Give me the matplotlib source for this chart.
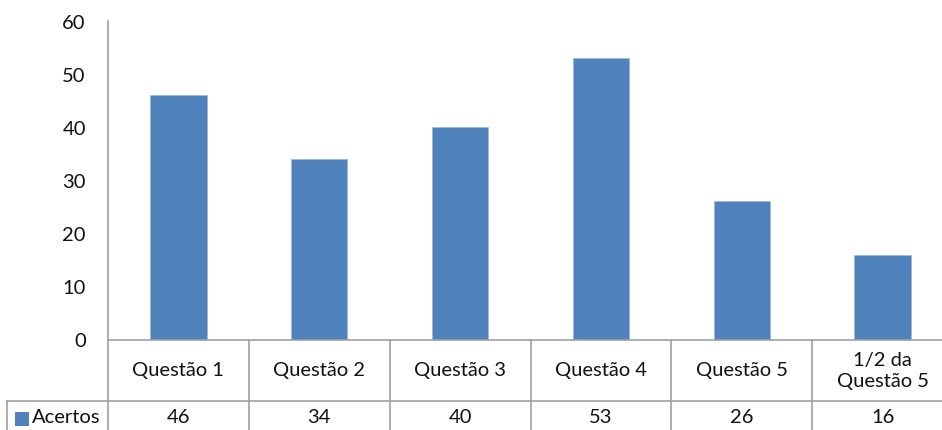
import matplotlib.pyplot as plt
from matplotlib.transforms import blended_transform_factory
from matplotlib.patches import Rectangle

categories = ["Questão 1", "Questão 2", "Questão 3", "Questão 4", "Questão 5", "1/2 da\nQuestão 5"]
acertos = [46, 34, 40, 53, 26, 16]
series_name = "Acertos"
yticks = [0, 10, 20, 30, 40, 50, 60]

W, H = 942, 431
bar_color = "#4F81BD"
line_color = "#A0A0A0"
text_color = "#111111"
font = ["Lato", "DejaVu Sans"]
fs = 14.5

fig = plt.figure(figsize=(W / 100, H / 100), dpi=100)
x_left, x_right = 108, 953
y_top, y_zero = 22, 340.5
ax = fig.add_axes([x_left / W, (H - y_zero) / H, (x_right - x_left) / W, (y_zero - y_top) / H])

xs = list(range(len(categories)))
ax.bar(xs, acertos, width=0.40, color=bar_color, edgecolor="#9DB6DA", linewidth=0.6, zorder=2)
ax.set_xlim(-0.5, len(categories) - 0.5)
ax.set_ylim(0, 60)
ax.set_yticks(yticks)
ax.set_yticklabels([str(t) for t in yticks], fontsize=fs, family=font, color=text_color)
ax.tick_params(axis="y", length=0, pad=16)
ax.set_xticks([])
for s in ["top", "right"]:
    ax.spines[s].set_visible(False)
ax.spines["left"].set_color(line_color)
ax.spines["left"].set_linewidth(1.2)
ax.spines["bottom"].set_color(line_color)
ax.spines["bottom"].set_linewidth(1.2)

# data table beneath the plot: x in data units, y in figure pixels
tr = blended_transform_factory(ax.transData, fig.transFigure)
def fy(p):
    return (H - p) / H

row1_top, row1_bot, row2_bot = 340.5, 401.5, 440
lw = 1.2
# vertical separators between categories
for b in [i - 0.5 for i in range(len(categories) + 1)]:
    ax.plot([b, b], [fy(row1_top), fy(row2_bot)], transform=tr, color=line_color,
            lw=lw, clip_on=False)
# horizontal line under the category row, extended over the label column
fig.add_artist(plt.Line2D([7 / W, 1.0], [fy(row1_bot), fy(row1_bot)], color=line_color, lw=lw))
fig.add_artist(plt.Line2D([7 / W, 7 / W], [fy(row1_bot), 0], color=line_color, lw=lw))

for i, (c, v) in enumerate(zip(categories, acertos)):
    ax.text(i, fy((row1_top + row1_bot) / 2), c, transform=tr, ha="center", va="center",
            fontsize=fs, family=font, color=text_color, linespacing=1.25, clip_on=False)
    ax.text(i, fy(418), str(v), transform=tr, ha="center", va="center",
            fontsize=fs, family=font, color=text_color, clip_on=False)

# series label with colour key
fig.add_artist(Rectangle((15 / W, fy(427)), 14 / W, 14 / H, transform=fig.transFigure,
                         facecolor=bar_color, edgecolor="none"))
fig.text(32 / W, fy(418), series_name, ha="left", va="center", fontsize=fs,
         family=font, color=text_color)

fig.savefig("out.png", dpi=100)
